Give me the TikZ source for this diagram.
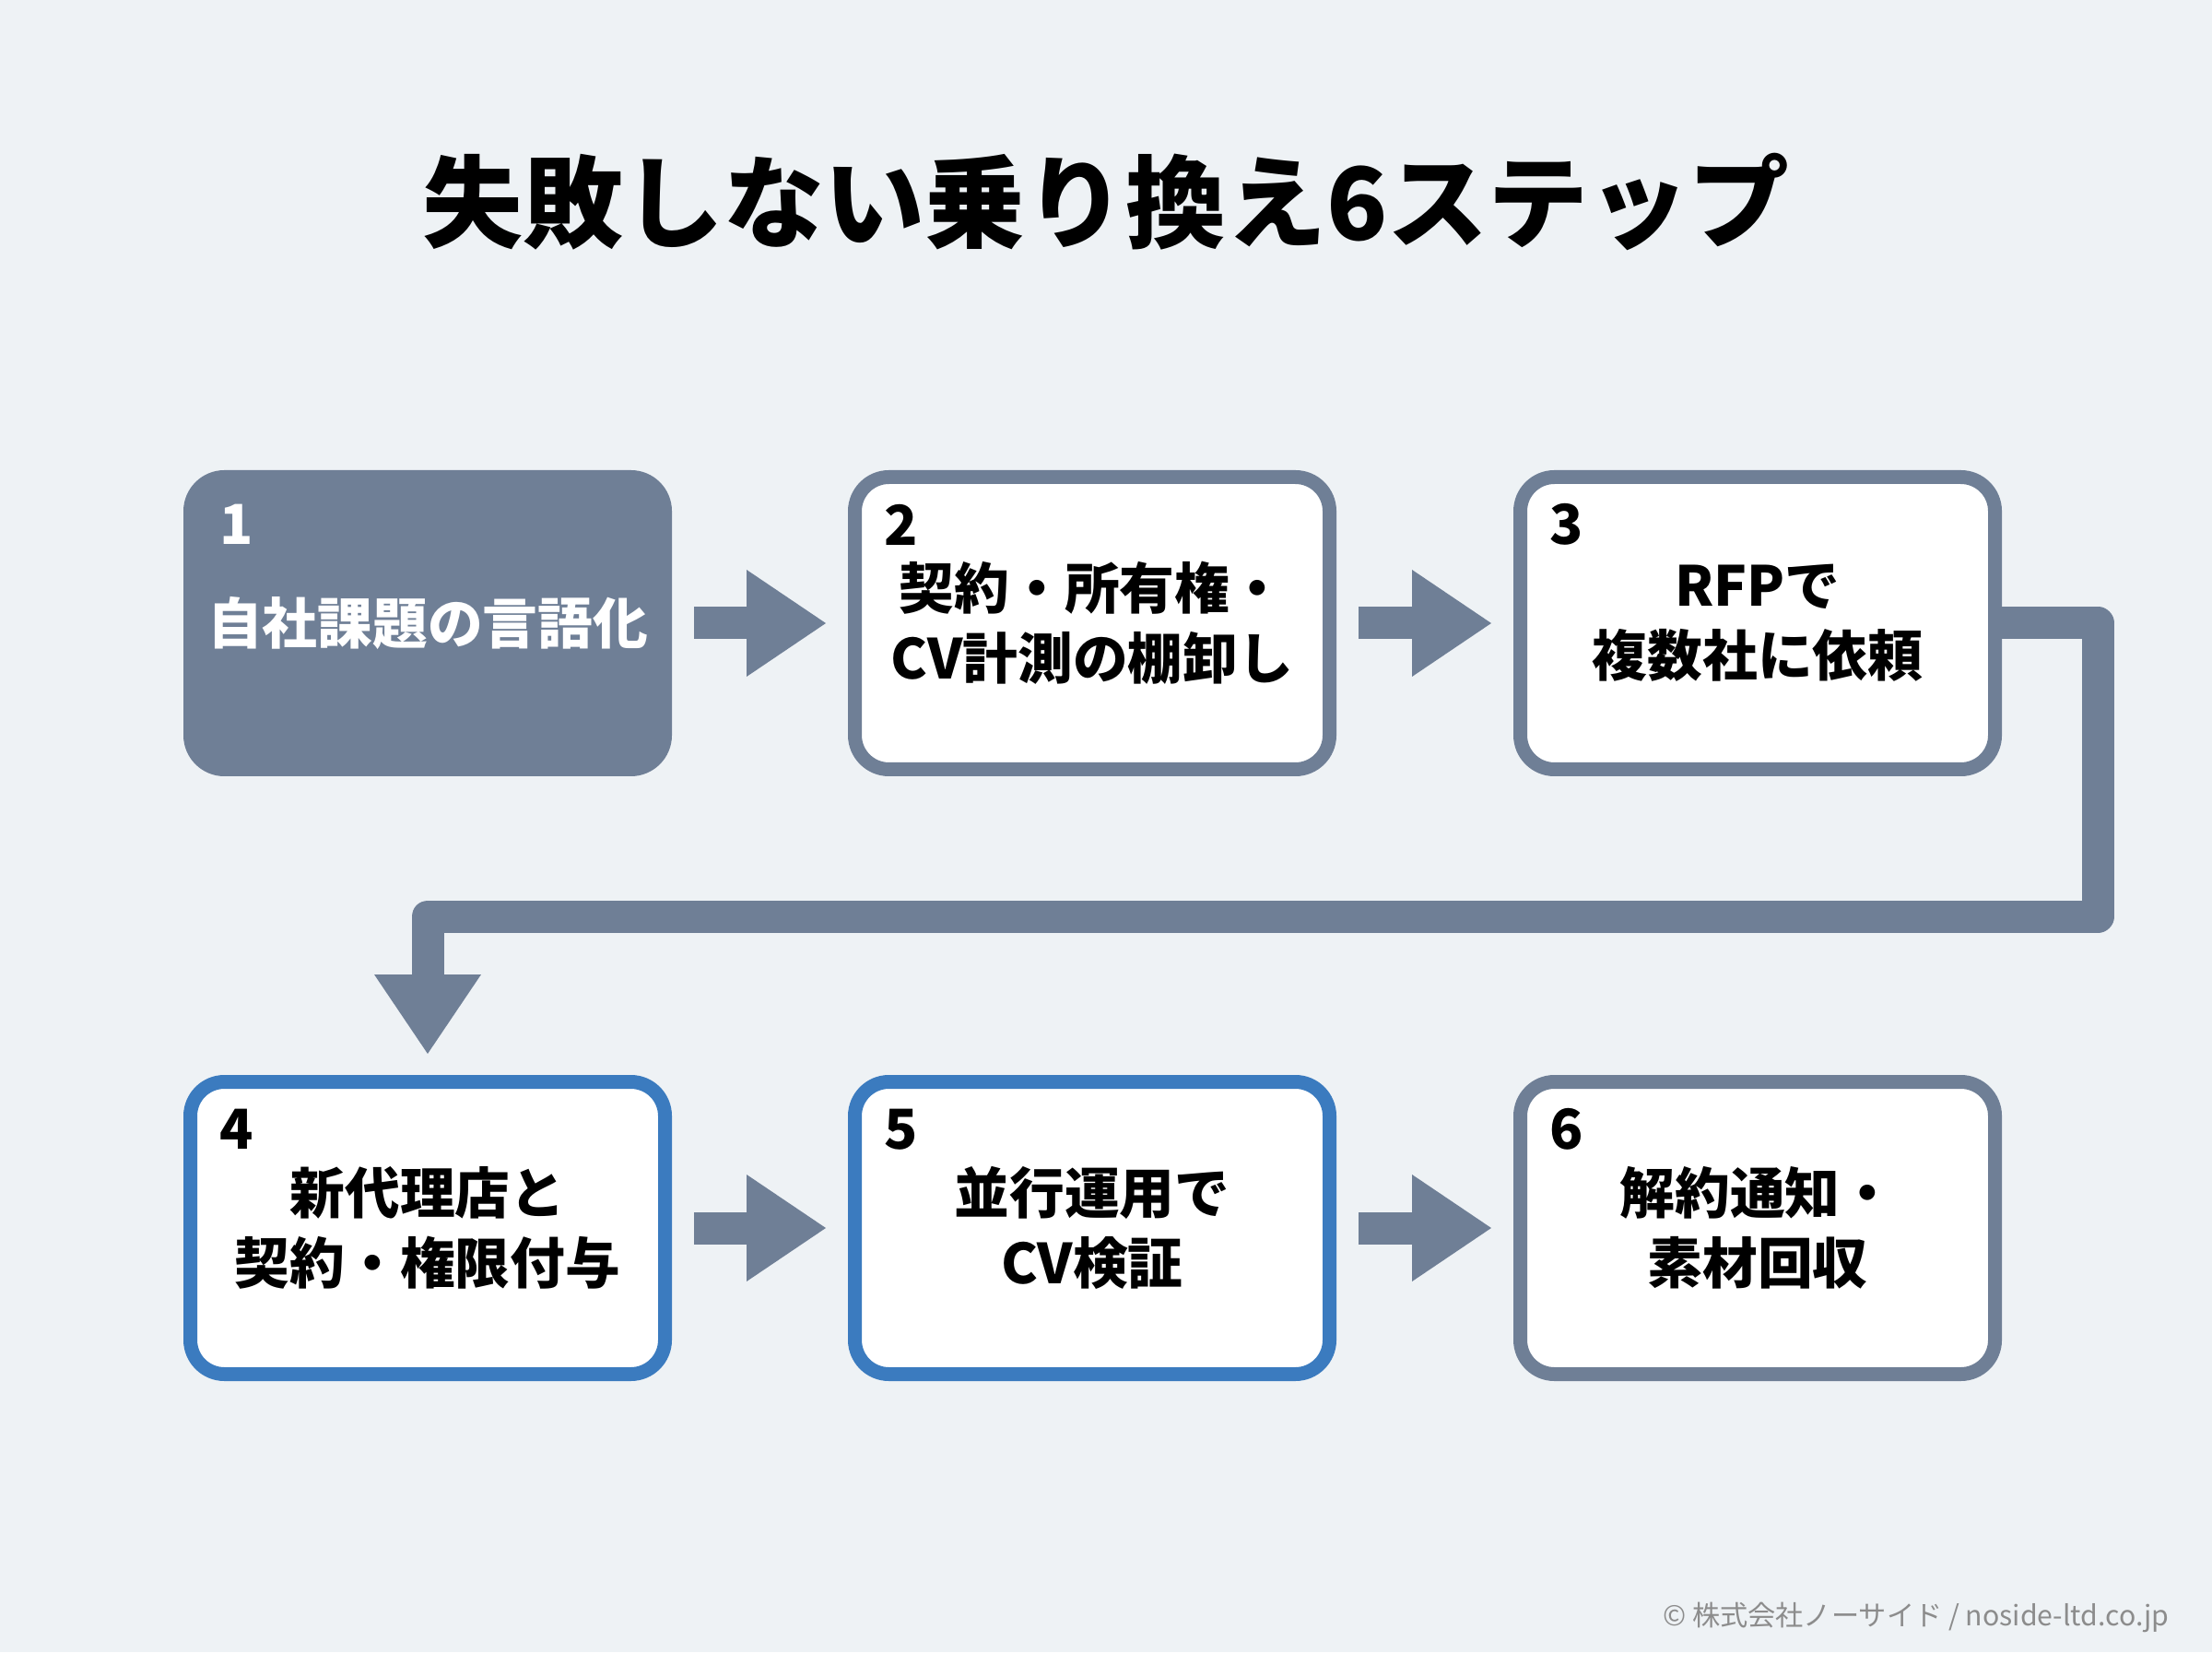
\documentclass[tikz,border=0pt]{standalone}
\usepackage{fontspec}
\setmainfont{Noto Sans CJK JP}
\usepackage{tikz}
\usetikzlibrary{calc,positioning,arrows.meta}
\definecolor{slate}{HTML}{6F7F96}
\definecolor{stepblue}{HTML}{3B7BBF}
\definecolor{pagebg}{HTML}{EEF2F5}
\definecolor{footgrey}{HTML}{8C8C8C}
\tikzset{
  stepbox/.style={rectangle, rounded corners=0.37cm, draw=slate, fill=white, line width=0.15cm,
                  minimum width=5.15cm, minimum height=3.17cm, inner sep=0pt, align=center,
                  text=black, font=\fontsize{17pt}{21.6pt}\selectfont\bfseries},
  donebox/.style={stepbox, fill=slate, text=white},
  nextbox/.style={stepbox, draw=stepblue},
  stepnum/.style={inner sep=0pt, font=\fontsize{17pt}{20pt}\selectfont\bfseries},
  flow/.style={draw=slate, line width=0.35cm,
               -{Triangle[length=0.86cm, width=1.16cm, line width=0pt]}}
}

\begin{document}
\begin{tikzpicture}
  \fill[pagebg] (0,0) rectangle (24,17.92);
  \useasboundingbox (0,0) rectangle (24,17.92);
  \node[font=\fontsize{31pt}{36pt}\selectfont\bfseries] (title) at (12.00,15.73) {失敗しない乗り換え6ステップ};
  % steps
  \node[donebox] (b1) at ( 4.64, 11.16) {自社課題の言語化};
  \node[stepbox] (b2) at (11.85, 11.16) {契約・所有権・\\CV計測の棚卸し};
  \node[stepbox] (b3) at (19.07, 11.16) {RFPで\\複数社に依頼};
  \node[nextbox] (b4) at ( 4.64,  4.60) {新代理店と\\契約・権限付与};
  \node[nextbox] (b5) at (11.85,  4.60) {並行運用で\\CV検証};
  \node[stepbox] (b6) at (19.07,  4.60) {解約通知・\\素材回収};
  \node[stepnum, text=white] (n1) at ($(b1.north west)+(0.58,-0.59)$) {1};
  \node[stepnum] (n2) at ($(b2.north west)+(0.58,-0.59)$) {2};
  \node[stepnum] (n3) at ($(b3.north west)+(0.58,-0.59)$) {3};
  \node[stepnum] (n4) at ($(b4.north west)+(0.58,-0.59)$) {4};
  \node[stepnum] (n5) at ($(b5.north west)+(0.58,-0.59)$) {5};
  \node[stepnum] (n6) at ($(b6.north west)+(0.58,-0.59)$) {6};
  % arrows
  \draw[flow, shorten <=0.24cm, shorten >=0.24cm] (b1) -- (b2);
  \draw[flow, shorten <=0.24cm, shorten >=0.24cm] (b2) -- (b3);
  \draw[flow, line join=round, shorten >=0.23cm] (b3.east) -- ++(1.04,0)
    |- ($(b4.north)+(0,1.72)$) -- (b4.north);
  \draw[flow, shorten <=0.24cm, shorten >=0.24cm] (b4) -- (b5);
  \draw[flow, shorten <=0.24cm, shorten >=0.24cm] (b5) -- (b6);
  \node[anchor=east, text=footgrey, font=\fontsize{8.6pt}{10pt}\selectfont] (foot) at (23.66,0.38)
    {© 株式会社ノーサイド / noside-ltd.co.jp};
\end{tikzpicture}
\end{document}
